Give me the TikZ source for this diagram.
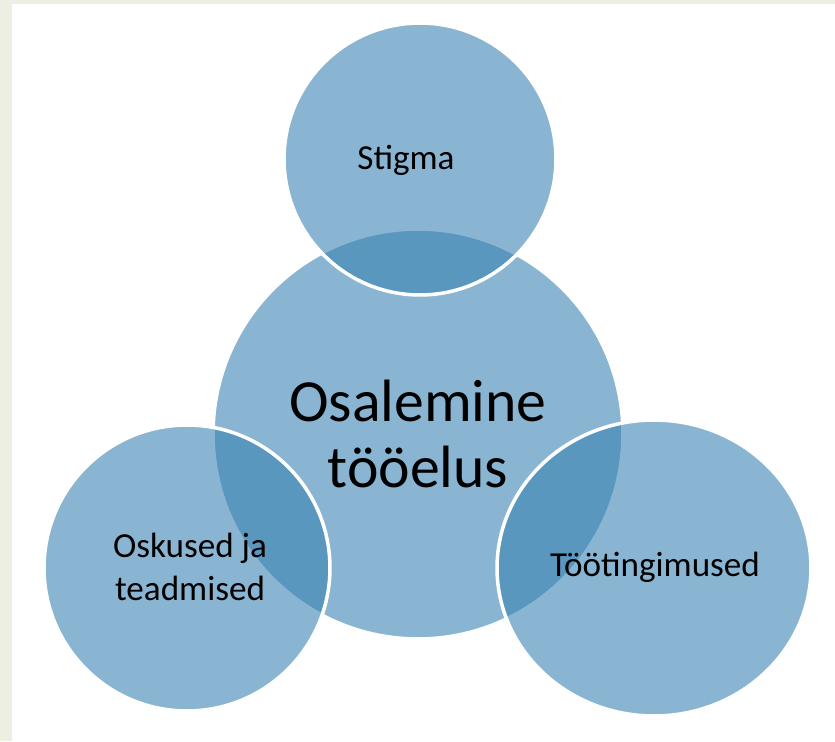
\documentclass[tikz,border=0pt]{standalone}
\usepackage{fontspec}
\setmainfont{Carlito}
\usetikzlibrary{shapes.geometric}
\definecolor{vennblue}{RGB}{57,130,179}
\definecolor{pagebeige}{RGB}{236,239,225}

\begin{document}
\begin{tikzpicture}[x=0.02cm, y=-0.02cm,
    venn/.style={fill=vennblue, fill opacity=0.59, draw=white, line width=2pt, inner sep=0pt},
    smalltext/.style={font=\fontsize{20}{24}\selectfont, align=center, text=black},
    bigtext/.style={font=\fontsize{34}{37.5}\selectfont, align=center, text=black}]
    % Page and margin
    \useasboundingbox (0,0) rectangle (835,741);
    \fill[pagebeige] (0,0) rectangle (835,741);
    \fill[white] (12,4) rectangle (835,741);

    % Draw the circles, middle one first
    \node[venn, circle, minimum size=8.2cm] (middle) at (418,434) {};
    \node[venn, circle, minimum size=5.44cm] (stigma) at (420,159) {};
    \node[venn, circle, minimum size=5.72cm] (oskused) at (187,568) {};
    \node[venn, ellipse, minimum width=6.28cm, minimum height=5.92cm] (tingimused) at (654,568) {};

    % Label the circles
    \node[bigtext] (middletext) at (418,434) {Osalemine\\tööelus};
    \node[smalltext] (stigmatext) at (406,160) {Stigma};
    \node[smalltext] (oskusedtext) at (190,567) {Oskused ja\\teadmised};
    \node[smalltext] (tingimusedtext) at (655,567) {Töötingimused};
\end{tikzpicture}
\end{document}
